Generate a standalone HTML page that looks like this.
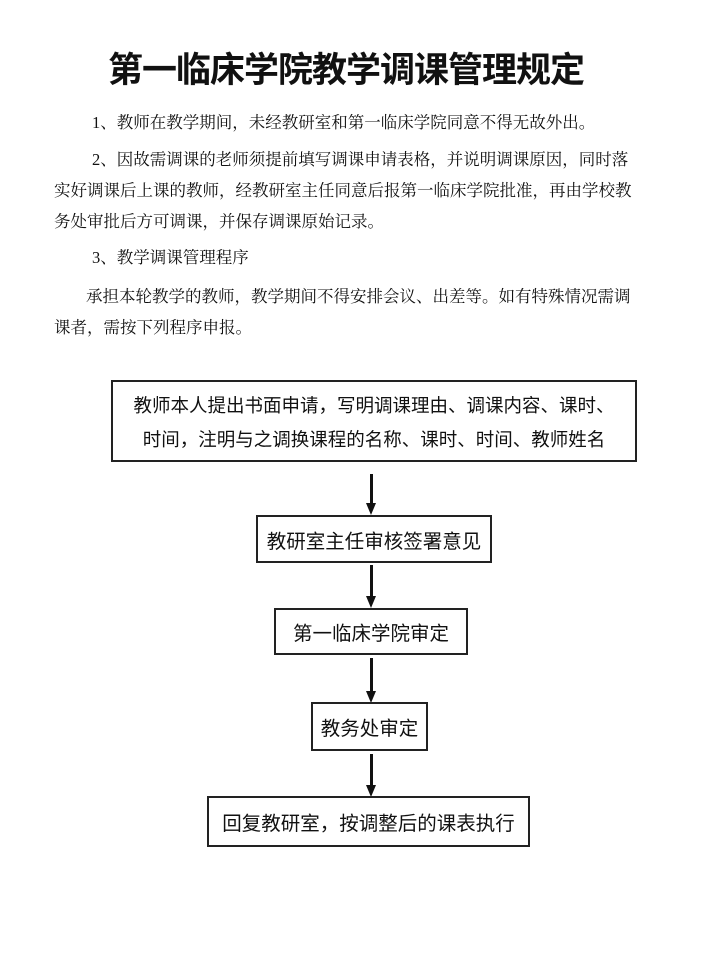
<!DOCTYPE html>
<html><head><meta charset="utf-8"><style>
html,body{margin:0;padding:0;background:#fff;}
body{width:720px;height:960px;position:relative;overflow:hidden;font-family:"Liberation Serif","Noto Serif CJK SC","Noto Sans CJK SC",serif;color:#111;}
.t{position:absolute;white-space:nowrap;}
.p{font-size:16.5px;line-height:16px;}
.box{position:absolute;border:2px solid #222;box-sizing:border-box;display:flex;align-items:center;justify-content:center;text-align:center;font-family:"Liberation Sans","Noto Sans CJK SC",sans-serif;font-size:19.5px;}
.ar{position:absolute;width:3px;background:#111;}
.ah{position:absolute;width:0;height:0;border-left:5px solid transparent;border-right:5px solid transparent;border-top:12px solid #111;}
</style></head><body>
<div class="t" style="left:108px;top:52px;font-size:35px;line-height:38px;letter-spacing:-1px;font-weight:bold;font-family:'Liberation Sans','Noto Sans CJK SC',sans-serif;">第一临床学院教学调课管理规定</div>
<div class="t p" style="left:92px;top:115px;">1、教师在教学期间，未经教研室和第一临床学院同意不得无故外出。</div>
<div class="t p" style="left:92px;top:152px;">2、因故需调课的老师须提前填写调课申请表格，并说明调课原因，同时落</div>
<div class="t p" style="left:54px;top:183px;">实好调课后上课的教师，经教研室主任同意后报第一临床学院批准，再由学校教</div>
<div class="t p" style="left:54px;top:214px;">务处审批后方可调课，并保存调课原始记录。</div>
<div class="t p" style="left:92px;top:250px;">3、教学调课管理程序</div>
<div class="t p" style="left:86px;top:289px;">承担本轮教学的教师，教学期间不得安排会议、出差等。如有特殊情况需调</div>
<div class="t p" style="left:54px;top:320px;">课者，需按下列程序申报。</div>

<div class="box" style="left:111px;top:380px;width:526px;height:82px;font-size:18.5px;line-height:34px;padding-top:4px;">教师本人提出书面申请，写明调课理由、调课内容、课时、<br>时间，注明与之调换课程的名称、课时、时间、教师姓名</div>
<div class="ar" style="left:370px;top:474px;height:32px;"></div><div class="ah" style="left:366px;top:503px;"></div>
<div class="box" style="left:256px;top:515px;width:236px;height:48px;">教研室主任审核签署意见</div>
<div class="ar" style="left:370px;top:565px;height:32px;"></div><div class="ah" style="left:366px;top:596px;"></div>
<div class="box" style="left:274px;top:608px;width:194px;height:47px;">第一临床学院审定</div>
<div class="ar" style="left:370px;top:658px;height:34px;"></div><div class="ah" style="left:366px;top:691px;"></div>
<div class="box" style="left:311px;top:702px;width:117px;height:49px;">教务处审定</div>
<div class="ar" style="left:370px;top:754px;height:32px;"></div><div class="ah" style="left:366px;top:785px;"></div>
<div class="box" style="left:207px;top:796px;width:323px;height:51px;">回复教研室，按调整后的课表执行</div>
</body></html>
